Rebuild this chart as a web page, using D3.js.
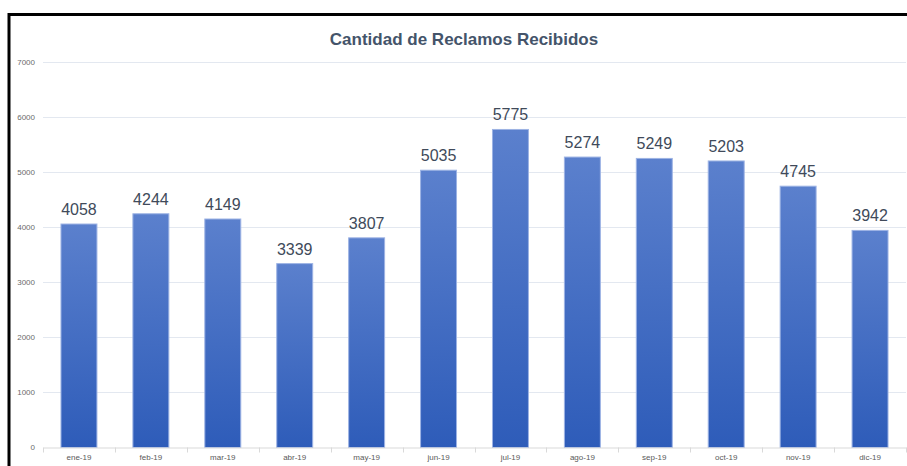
<!DOCTYPE html>
<html>
<head>
<meta charset="utf-8">
<script src="https://cdn.jsdelivr.net/npm/d3@7"></script>
<style>
  body { margin: 0; background: #fff; }
  svg { display: block; }
</style>
</head>
<body>
<script>
// chart data
var months = ["ene-19", "feb-19", "mar-19", "abr-19", "may-19", "jun-19",
              "jul-19", "ago-19", "sep-19", "oct-19", "nov-19", "dic-19"];
var reclamos = [4058, 4244, 4149, 3339, 3807, 5035, 5775, 5274, 5249, 5203, 4745, 3942];
var yTicks = [0, 1000, 2000, 3000, 4000, 5000, 6000, 7000];
var chartTitle = "Cantidad de Reclamos Recibidos";

var W = 907, H = 466;
var margin = {top: 62, right: 1, bottom: 18.5, left: 43},
    width = W - margin.left - margin.right,
    height = H - margin.top - margin.bottom;

var svg = d3.select("body").append("svg")
    .attr("width", W)
    .attr("height", H);

var defs = svg.append("defs");
var grad = defs.append("linearGradient")
    .attr("id", "barGrad")
    .attr("x1", 0).attr("y1", 0).attr("x2", 0).attr("y2", 1);
grad.append("stop").attr("offset", "0%").attr("stop-color", "#5b80cd");
grad.append("stop").attr("offset", "100%").attr("stop-color", "#2e5cb9");

// frame (black border at top and left)
svg.append("path")
    .attr("d", "M9,466 V14.5 H907")
    .attr("fill", "none")
    .attr("stroke", "#000")
    .attr("stroke-width", 3);

svg.append("text")
    .attr("x", 464)
    .attr("y", 45)
    .attr("text-anchor", "middle")
    .style("font-family", "'Liberation Sans', Arial, sans-serif")
    .style("font-weight", "bold")
    .style("font-size", "17px")
    .style("fill", "#44546a")
    .text(chartTitle);

var g = svg.append("g")
    .attr("transform", "translate(" + margin.left + "," + margin.top + ")");

var x = d3.scaleBand()
    .domain(months)
    .range([0, width])
    .paddingInner(0.5)
    .paddingOuter(0.25);

var y = d3.scaleLinear()
    .domain([0, 7000])
    .range([height, 0]);

// gridlines
g.append("g")
    .selectAll("line")
    .data(yTicks.filter(function(d) { return d > 0; }))
    .enter().append("line")
    .attr("x1", 0)
    .attr("x2", width)
    .attr("y1", function(d) { return Math.round(y(d)) + 0.5; })
    .attr("y2", function(d) { return Math.round(y(d)) + 0.5; })
    .attr("stroke", "#e3e8f0")
    .attr("stroke-width", 1);

// y axis labels
g.append("g")
    .selectAll("text")
    .data(yTicks)
    .enter().append("text")
    .attr("x", -8)
    .attr("y", function(d) { return y(d); })
    .attr("dy", "0.35em")
    .attr("text-anchor", "end")
    .style("font-family", "'Liberation Sans', Arial, sans-serif")
    .style("font-size", "8px")
    .style("fill", "#6b6b6b")
    .text(function(d) { return d; });

// bars
g.append("g")
    .selectAll("rect")
    .data(reclamos)
    .enter().append("rect")
    .attr("x", function(d, i) { return x(months[i]); })
    .attr("y", function(d) { return y(d); })
    .attr("width", x.bandwidth())
    .attr("height", function(d) { return height - y(d); })
    .attr("fill", "url(#barGrad)")
    .attr("stroke", "#9db3e4")
    .attr("stroke-width", 1);

// value labels
g.append("g")
    .selectAll("text")
    .data(reclamos)
    .enter().append("text")
    .attr("x", function(d, i) { return x(months[i]) + x.bandwidth() / 2; })
    .attr("y", function(d) { return y(d) - 9; })
    .attr("text-anchor", "middle")
    .style("font-family", "'Liberation Sans', Arial, sans-serif")
    .style("font-size", "16px")
    .style("fill", "#404a5a")
    .text(function(d) { return d; });

// x axis
var xAxis = d3.axisBottom(x).tickSize(0).tickPadding(7);
var xg = g.append("g")
    .attr("transform", "translate(0," + height + ")")
    .call(xAxis);
xg.select(".domain").attr("stroke", "#d9d9d9");
xg.selectAll("text")
    .style("font-family", "'Liberation Sans', Arial, sans-serif")
    .style("font-size", "8px")
    .style("fill", "#595959");

// tick marks between categories
xg.selectAll(".sep")
    .data(d3.range(months.length + 1))
    .enter().append("line")
    .attr("class", "sep")
    .attr("x1", function(i) { return Math.round(i * x.step()) + 0.5; })
    .attr("x2", function(i) { return Math.round(i * x.step()) + 0.5; })
    .attr("y1", 0)
    .attr("y2", 5)
    .attr("stroke", "#d9d9d9");
</script>
</body>
</html>
